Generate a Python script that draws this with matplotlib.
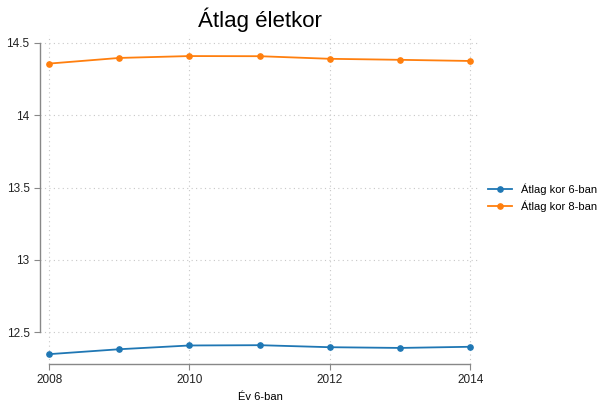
import matplotlib
matplotlib.use('Agg')
import matplotlib.pyplot as plt

plt.rcParams['font.family'] = ['Liberation Sans', 'DejaVu Sans']

years = [2008, 2009, 2010, 2011, 2012, 2013, 2014]
kor_6 = [12.348, 12.382, 12.408, 12.410, 12.396, 12.391, 12.399]
kor_8 = [14.357, 14.396, 14.409, 14.408, 14.390, 14.383, 14.375]
series_labels = ['Átlag kor 6-ban', 'Átlag kor 8-ban']
x_ticks = [2008, 2010, 2012, 2014]
y_ticks = [12.5, 13, 13.5, 14, 14.5]
y_tick_labels = ['12.5', '13', '13.5', '14', '14.5']

fig = plt.figure(figsize=(6, 4.03), dpi=100)
ax = fig.add_axes([0.0667, 0.0968, 0.7333, 0.8165])

ax.plot(years, kor_6, '-o', color='#1f77b4', lw=1.3, ms=3.8, label=series_labels[0])
ax.plot(years, kor_8, '-o', color='#ff7f0e', lw=1.3, ms=3.8, label=series_labels[1])

ax.set_xlim(2007.87, 2014.14)
ax.set_ylim(12.28, 14.555)
ax.set_xticks(x_ticks)
ax.set_yticks(y_ticks)
ax.set_yticklabels(y_tick_labels)

# grid and spines
ax.grid(True, linestyle=(0, (1, 3)), color='#c8c8c8', lw=0.8)
for s in ['top', 'right']:
    ax.spines[s].set_visible(False)
ax.spines['left'].set_bounds(12.5, 14.5)
ax.spines['bottom'].set_bounds(2008, 2014)
for s in ['left', 'bottom']:
    ax.spines[s].set_color('#888888')
    ax.spines[s].set_linewidth(1.0)
ax.tick_params(colors='#888888', labelcolor='#222222', labelsize=8.5, length=4)

ax.set_title('Átlag életkor', fontsize=16, pad=6)
ax.set_xlabel('Év 6-ban', fontsize=8, labelpad=4)

ax.legend(loc='center left', bbox_to_anchor=(1.0, 0.505), borderaxespad=0.3,
          frameon=False, fontsize=8, handlelength=2.2, handletextpad=0.8,
          labelspacing=0.5)

plt.savefig('out.png', dpi=100)
